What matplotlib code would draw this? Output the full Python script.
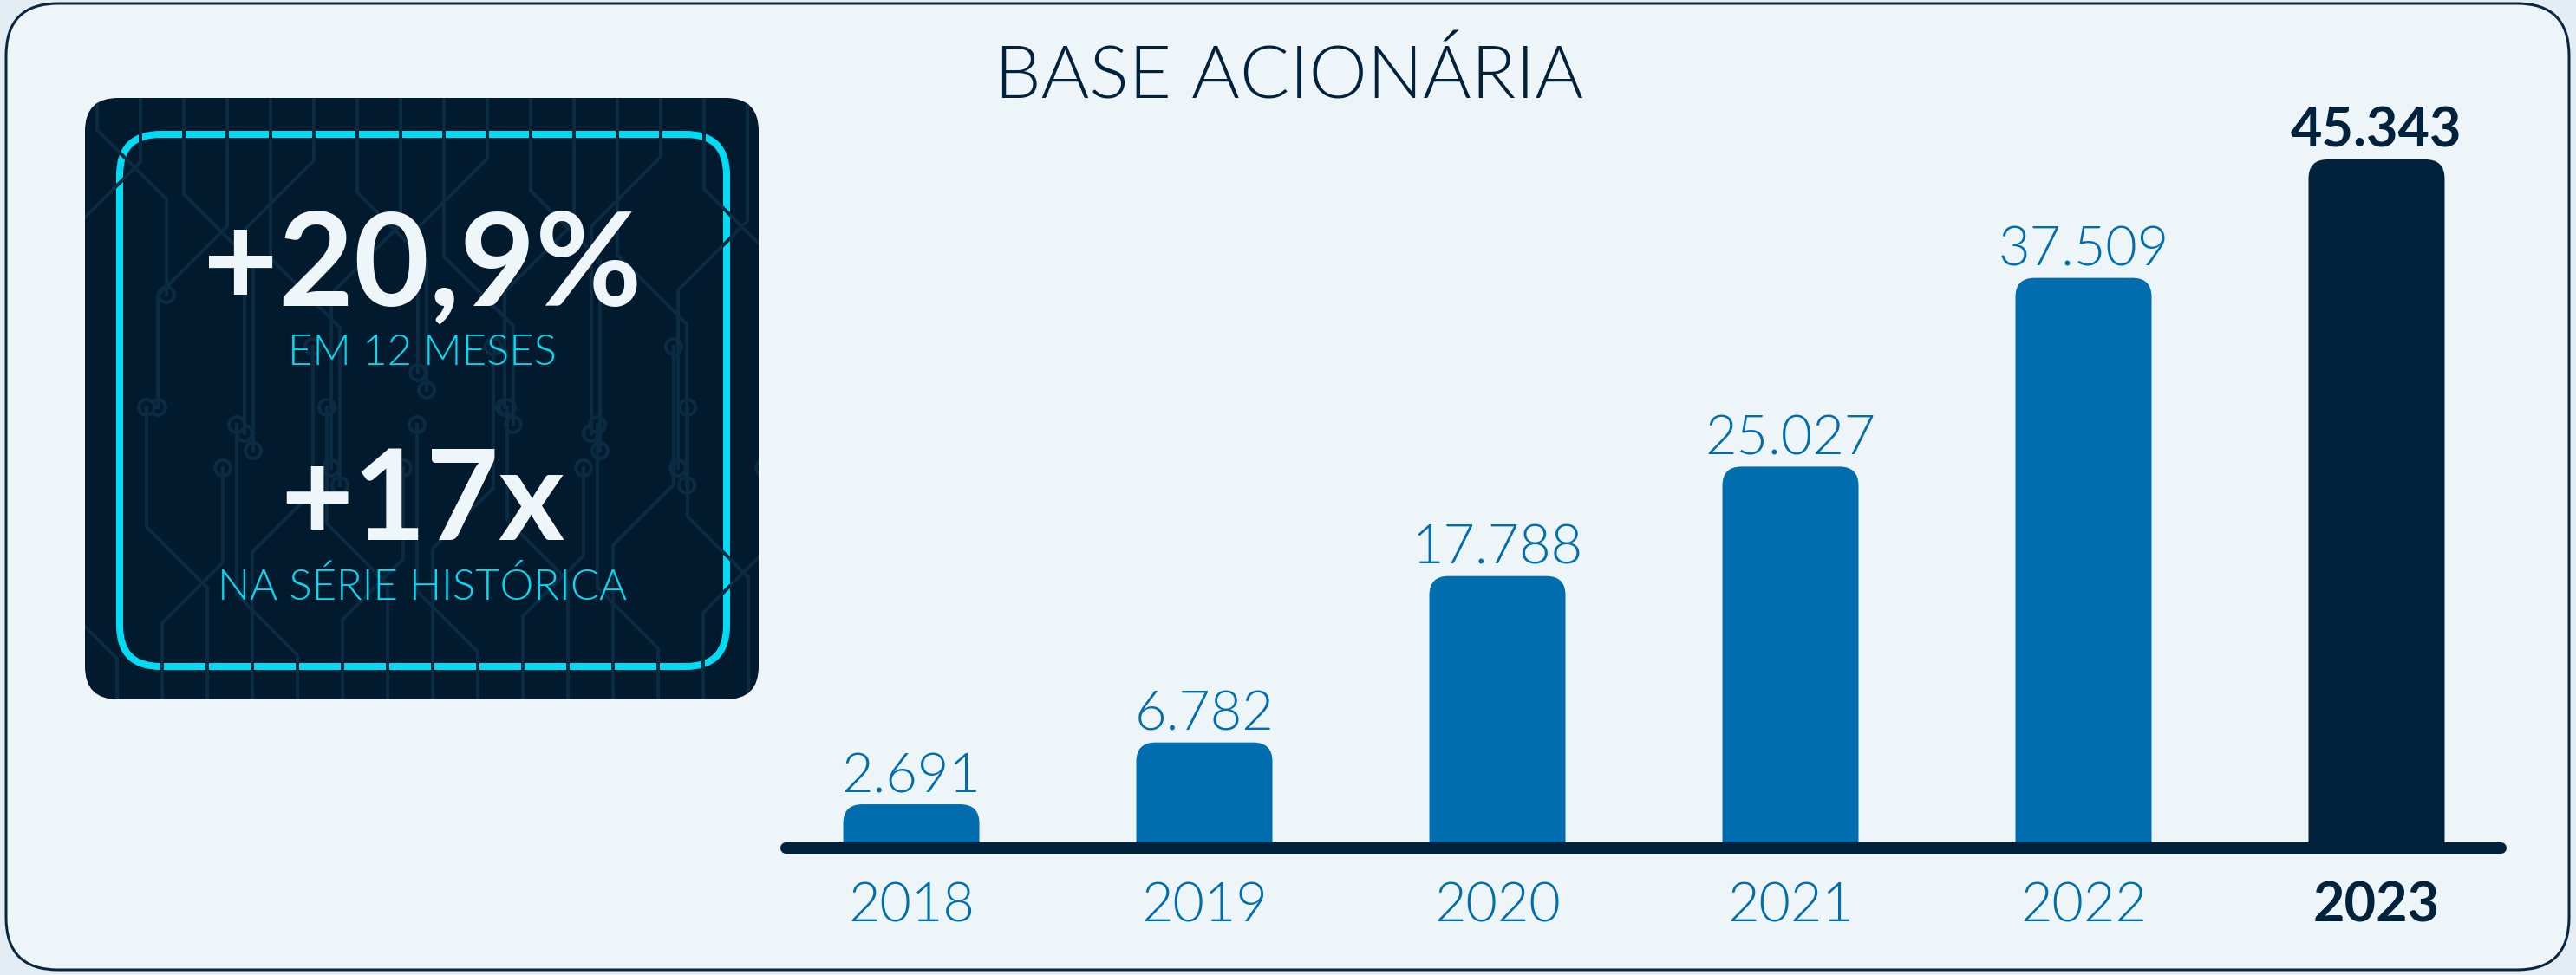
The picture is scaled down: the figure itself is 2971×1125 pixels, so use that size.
import matplotlib
matplotlib.use("Agg")
import matplotlib.pyplot as plt
from matplotlib.patches import FancyBboxPatch, Circle

# data
years = ["2018", "2019", "2020", "2021", "2022", "2023"]
shareholders = [2691, 6782, 17788, 25027, 37509, 45343]
value_labels = ["2.691", "6.782", "17.788", "25.027", "37.509", "45.343"]
title = "BASE ACIONÁRIA"
kpi_main = ["+20,9%", "+17x"]
kpi_sub = ["EM 12 MESES", "NA SÉRIE HISTÓRICA"]

W, H, DPI = 2971, 1125, 100
NAVY = "#00223D"
BLUE = "#006DAE"
CYAN = "#00DCF5"
PANEL = "#EDF5F9"
OUTSIDE = "#E3EDF3"
BOX = "#021A2E"
TRACE = "#0B2B42"
WHITE = "#EEF6FA"
LIGHT = 300


def pt(px):
    # pixel size -> points
    return px * 72 / DPI


plt.rcParams["font.family"] = ["Lato", "DejaVu Sans"]

fig = plt.figure(figsize=(W / DPI, H / DPI), dpi=DPI)
fig.patch.set_facecolor(OUTSIDE)

# background layer in pixel coordinates
bg = fig.add_axes([0, 0, 1, 1])
bg.set_xlim(0, W)
bg.set_ylim(H, 0)
bg.axis("off")

bg.add_patch(FancyBboxPatch((7, 4), 2956, 1115,
                            boxstyle="round,pad=0,rounding_size=60",
                            fc=PANEL, ec="#0A2540", lw=pt(3)))

box = FancyBboxPatch((98, 113), 777, 694,
                     boxstyle="round,pad=0,rounding_size=38",
                     fc=BOX, ec="none")
bg.add_patch(box)

# circuit-like decoration inside the dark box
for i in range(16):
    x0 = 112 + i * 50
    d = 1 if i % 2 == 0 else -1
    y1 = 150 + (i * 37) % 150
    xs = [x0, x0, x0 + d * 80, x0 + d * 80]
    ys = [113, y1, y1 + 80, y1 + 190 + (i * 53) % 140]
    ln, = bg.plot(xs, ys, color=TRACE, lw=pt(4))
    ln.set_clip_path(box)
    c = Circle((xs[-1], ys[-1]), 9, fc=BOX, ec=TRACE, lw=pt(4))
    bg.add_patch(c)
    c.set_clip_path(box)
for i in range(15):
    x0 = 135 + i * 52
    d = -1 if i % 2 == 0 else 1
    y1 = 760 - (i * 41) % 160
    xs = [x0, x0, x0 + d * 70, x0 + d * 70]
    ys = [807, y1, y1 - 70, y1 - 150 - (i * 29) % 120]
    ln, = bg.plot(xs, ys, color=TRACE, lw=pt(4))
    ln.set_clip_path(box)
    c = Circle((xs[-1], ys[-1]), 9, fc=BOX, ec=TRACE, lw=pt(4))
    bg.add_patch(c)
    c.set_clip_path(box)

bg.add_patch(FancyBboxPatch((138, 155), 700, 614,
                            boxstyle="round,pad=0,rounding_size=47",
                            fc="none", ec=CYAN, lw=pt(8)))

# KPI texts
bg.text(487, 353, kpi_main[0], ha="center", va="baseline", color=WHITE,
        fontsize=pt(150), fontweight="bold")
bg.text(487, 421, kpi_sub[0], ha="center", va="baseline", color=CYAN,
        fontsize=pt(49), fontweight=LIGHT)
bg.text(487, 623, kpi_main[1], ha="center", va="baseline", color=WHITE,
        fontsize=pt(145), fontweight="bold")
bg.text(487, 692, kpi_sub[1], ha="center", va="baseline", color=CYAN,
        fontsize=pt(49), fontweight=LIGHT)

bg.text(1487, 114, title, ha="center", va="baseline", color=NAVY,
        fontsize=pt(85), fontweight=LIGHT)

# bar chart
ax_l, ax_r, ax_top, ax_bot = 880, 2911, 100, 975
ax = fig.add_axes([ax_l / W, (H - ax_bot) / H, (ax_r - ax_l) / W, (ax_bot - ax_top) / H])
ax.patch.set_alpha(0)
ax.axis("off")
xmin, xmax = -0.506, 5.503
ymax = max(shareholders) * (ax_bot - ax_top) / 791
ax.set_xlim(xmin, xmax)
ax.set_ylim(0, ymax)

xpp = (xmax - xmin) / (ax_r - ax_l)
ypp = ymax / (ax_bot - ax_top)
bw = 157 * xpp
r_px = 22

for i, v in enumerate(shareholders):
    last = i == len(shareholders) - 1
    color = NAVY if last else BLUE
    bottom = -3 * r_px * ypp
    ax.add_patch(FancyBboxPatch((i - bw / 2, bottom), bw, v - bottom,
                                boxstyle=f"round,pad=0,rounding_size={r_px * xpp}",
                                mutation_aspect=ypp / xpp,
                                fc=color, ec="none", zorder=2))
    ax.annotate(value_labels[i], (i, v), xytext=(0, pt(14)), textcoords="offset points",
                ha="center", va="baseline", color=color,
                fontsize=pt(63), fontweight="bold" if last else LIGHT)
    ax.annotate(years[i], (i, 0), xytext=(0, -pt(88)), textcoords="offset points",
                ha="center", va="baseline", color=color, annotation_clip=False,
                fontsize=pt(63), fontweight="bold" if last else LIGHT)

ax.plot([(906 - 1051) / 338, (2884 - 1051) / 338], [-3 * ypp] * 2,
        color=NAVY, lw=pt(13), solid_capstyle="round", clip_on=False, zorder=3)

fig.savefig("out.png", dpi=DPI, facecolor=fig.get_facecolor())
